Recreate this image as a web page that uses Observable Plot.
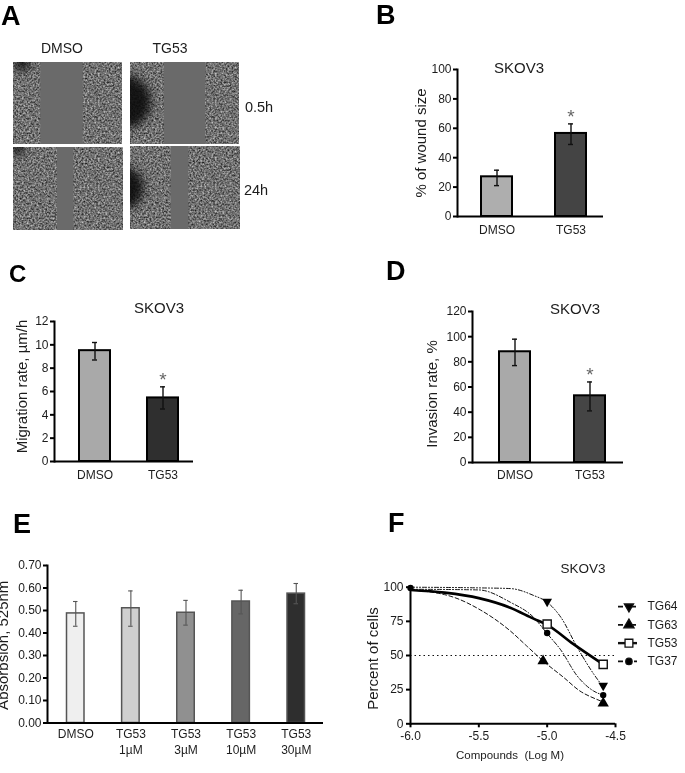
<!DOCTYPE html>
<html><head><meta charset="utf-8">
<script src="https://cdn.jsdelivr.net/npm/d3@7"></script>
<script src="https://cdn.jsdelivr.net/npm/@observablehq/plot@0.6"></script>
<style>
html,body{margin:0;padding:0;background:#fff}
#page{position:relative;width:685px;height:773px;overflow:hidden;background:#fff;font-family:"Liberation Sans",Arial,sans-serif;color:#1c1c1c;filter:blur(.4px)}
#page>svg,#page>div{position:absolute}
.letter{font-weight:700;color:#000;line-height:1}
.t{white-space:nowrap;transform:translate(-50%,-50%);line-height:1}
</style></head><body>
<svg width="0" height="0" style="position:absolute"><defs>
<filter id="cells" x="0" y="0" width="100%" height="100%" color-interpolation-filters="sRGB">
<feTurbulence type="fractalNoise" baseFrequency="0.55" numOctaves="2" seed="7"/>
<feColorMatrix values=".9 0 0 0 -.01  .9 0 0 0 -.01  .9 0 0 0 -.01  0 0 0 0 1"/>
<feComposite operator="in" in2="SourceAlpha"/>
</filter>
</defs></svg>
<div id="page"></div>
<script>
// Panel A: wound gap edges and dark smudges in each micrograph, in % of the field
const fieldNames = ["DMSO 0.5h", "TG53 0.5h", "DMSO 24h", "TG53 24h"];
const gapStart = [25, 31, 40, 37];
const gapEnd = [64, 69, 55, 53];
const smudgeX = [8, -6, 4, -8];
const smudgeY = [100, 52, 100, 50];
const smudgeRadius = [8, 27, 7, 22];

// Panel B
const barLabels = ["DMSO", "TG53"];
const woundValues = [27, 56.5];
const woundLow = [21, 49];
const woundHigh = [31.5, 63];
// Panel C
const migrationValues = [9.5, 5.45];
const migrationLow = [8.7, 4.5];
const migrationHigh = [10.2, 6.4];
// Panel D
const invasionValues = [88, 53];
const invasionLow = [77, 41];
const invasionHigh = [98, 64];
// Panel E
const absorbLabels = ["DMSO", "TG53\n1µM", "TG53\n3µM", "TG53\n10µM", "TG53\n30µM"];
const absorbValues = [0.487, 0.51, 0.49, 0.54, 0.575];
const absorbLow = [0.43, 0.43, 0.435, 0.485, 0.53];
const absorbHigh = [0.54, 0.587, 0.545, 0.59, 0.62];
const absorbFills = ["#efefef", "#cfcfcf", "#909090", "#666666", "#2e2e2e"];
// Panel F: points
const logDose64 = [-6, -5.5, -5.27, -5.1, -5, -4.9, -4.78, -4.66, -4.59];
const percent64 = [100, 99.5, 99, 94, 89, 78, 56, 36.5, 27];
const logDose63 = [-6, -5.68, -5.5, -5.27, -5.15, -5.03, -4.88, -4.76, -4.64, -4.59];
const percent63 = [98, 92.5, 84, 68, 57, 46, 34, 24, 18, 16];
const logDose53 = [-6, -5.75, -5.5, -5.27, -5.1, -5, -4.81, -4.59];
const percent53 = [98, 96, 92, 85, 77, 72.5, 58.5, 43.5];
const logDose37 = [-6, -5.5, -5.27, -5.1, -5, -4.9, -4.78, -4.66, -4.59];
const percent37 = [98.5, 98, 89, 78, 66, 54, 35, 24, 21];
const markers64 = [[-5, 89.5], [-4.59, 28]];
const markers63 = [[-5.03, 46], [-4.59, 15]];
const markers53 = [[-5, 73], [-4.59, 43.5]];
const markers37 = [[-6, 99.5], [-5, 66.5], [-4.59, 21]];
const legendNames = ["TG64", "TG63", "TG53", "TG37"];

const page = document.getElementById("page");
const FONT = '"Liberation Sans",Arial,sans-serif';
function place(node, left, top) { node.style.left = left + "px"; node.style.top = top + "px"; page.appendChild(node); }
function label(text, x, y, size, color) {
  const d = document.createElement("div"); d.className = "t"; d.textContent = text;
  d.style.left = x + "px"; d.style.top = y + "px"; d.style.fontSize = size + "px"; if (color) d.style.color = color;
  page.appendChild(d);
}
function letter(text, x, y, size) {
  const d = document.createElement("div"); d.className = "letter"; d.textContent = text;
  d.style.left = x + "px"; d.style.top = y + "px"; d.style.fontSize = size + "px"; page.appendChild(d);
}

function field(i, left, top, w, h) {
  const p = Plot.plot({
    width: w, height: h, margin: 0, style: {background: "#6a6a6a", display: "block", overflow: "hidden"},
    x: {domain: [0, 100], axis: null}, y: {domain: [0, 100], axis: null},
    marks: [
      Plot.rect([{a: 0, b: gapStart[i]}, {a: gapEnd[i], b: 100}],
        {x1: "a", x2: "b", y1: 0, y2: 100, fill: "#fff", imageFilter: "url(#cells)"}),
      Plot.dot([{x: smudgeX[i], y: smudgeY[i]}],
        {x: "x", y: "y", r: smudgeRadius[i], fill: "#0a0a0a", fillOpacity: .9, imageFilter: "blur(5px)"})
    ]
  });
  place(p, left, top);
}

function barPanel({left, top, width, height, axisX, y0Abs, yTopAbs, rightAbs, firstBar, lastBar, bw, labels, values, low, high, fills,
  yMax, yTicks, yFormat, yLabel, labelDx, labelDy, labelSize, star, barStroke, barWidth, errColor, errWidth, capWidth, tickFont, xFont, xPad}) {
  const rows = labels.map((l, i) => ({l, v: values[i], lo: low[i], hi: high[i]}));
  const step = labels.length > 1 ? (lastBar - firstBar - bw) / (labels.length - 1) : bw;
  const inset = (bw - capWidth) / 2;
  const p = Plot.plot({
    width, height, marginLeft: axisX - left, marginRight: left + width - rightAbs, marginTop: yTopAbs - top, marginBottom: top + height - y0Abs,
    style: {fontFamily: FONT, background: "transparent", overflow: "visible"},
    x: {type: "band", domain: labels, range: [firstBar - left, lastBar - left], paddingInner: 1 - bw / step, paddingOuter: 0, round: false},
    y: {domain: [0, yMax], label: null},
    color: {domain: labels, range: fills},
    marks: [
      Plot.barY(rows, {x: "l", y: "v", fill: "l", stroke: barStroke, strokeWidth: barWidth}),
      Plot.ruleX(rows, {x: "l", y1: "lo", y2: "hi", stroke: errColor, strokeWidth: errWidth}),
      Plot.tickY(rows, {x: "l", y: "lo", stroke: errColor, strokeWidth: errWidth, insetLeft: inset, insetRight: inset}),
      Plot.tickY(rows, {x: "l", y: "hi", stroke: errColor, strokeWidth: errWidth, insetLeft: inset, insetRight: inset}),
      ...(star ? [Plot.text(rows.filter(r => r.l === star), {x: "l", y: "hi", text: () => "*", dy: -7, fontSize: 19, fill: "#666"})] : []),
      Plot.ruleY([0], {stroke: "#000", strokeWidth: 2}),
      Plot.frame({anchor: "left", stroke: "#000", strokeWidth: 2}),
      Plot.axisY({ticks: yTicks, tickSize: 4, tickPadding: 2, stroke: "#000", strokeWidth: 2, fill: "#1c1c1c", fontSize: tickFont, tickFormat: yFormat, label: null}),
      Plot.axisX({tickSize: 0, tickPadding: xPad, fill: "#1c1c1c", fontSize: xFont, lineHeight: 1.3, label: null, tickFormat: d => d}),
      Plot.text([yLabel], {frameAnchor: "left", textAnchor: "middle", rotate: -90, dx: labelDx, dy: labelDy, fontSize: labelSize, fill: "#1c1c1c"})
    ]
  });
  place(p, left, top);
}

function curve(xs, ys, opts) {
  return Plot.line(xs.map((x, i) => [x, ys[i]]), {x: "0", y: "1", curve: "monotone-x", stroke: "#111", ...opts});
}
function markerDots(points, opts) {
  return Plot.dot(points, {x: "0", y: "1", fill: "#000", ...opts});
}

// Panel A
letter("A", 1, 3, 27);
label("DMSO", 62, 48, 14);
label("TG53", 170, 48, 14);
label("0.5h", 259, 107, 14.5);
label("24h", 256, 190, 14.5);
field(0, 13, 62, 109, 82);
field(1, 130, 62, 109, 82);
field(2, 13, 147, 110, 83);
field(3, 130, 146, 110, 83);

// Panel B
letter("B", 376, 2, 27);
label("SKOV3", 519, 67, 15);
barPanel({left: 395, top: 50, width: 220, height: 195, axisX: 457, y0Abs: 216, yTopAbs: 69, rightAbs: 603,
  firstBar: 481, lastBar: 586, bw: 31, labels: barLabels, values: woundValues, low: woundLow, high: woundHigh, fills: ["#aeaeae", "#444444"],
  yMax: 100, yTicks: [0, 20, 40, 60, 80, 100], yFormat: d => d, yLabel: "% of wound size", labelDx: -36, labelDy: 0, labelSize: 15, star: "TG53",
  barStroke: "#000", barWidth: 2, errColor: "#111", errWidth: 1.4, capWidth: 5, tickFont: 12, xFont: 12, xPad: 6});

// Panel C
letter("C", 9, 262, 24);
label("SKOV3", 159, 307, 15);
barPanel({left: 0, top: 305, width: 205, height: 190, axisX: 54, y0Abs: 461, yTopAbs: 321, rightAbs: 193,
  firstBar: 79, lastBar: 178, bw: 31, labels: barLabels, values: migrationValues, low: migrationLow, high: migrationHigh, fills: ["#a9a9a9", "#2f2f2f"],
  yMax: 12, yTicks: [0, 2, 4, 6, 8, 10, 12], yFormat: d => d, yLabel: "Migration rate, µm/h", labelDx: -32, labelDy: -5, labelSize: 15, star: "TG53",
  barStroke: "#000", barWidth: 2, errColor: "#111", errWidth: 1.4, capWidth: 5, tickFont: 12, xFont: 12, xPad: 6});

// Panel D
letter("D", 386, 258, 27);
label("SKOV3", 575, 308, 15);
barPanel({left: 410, top: 295, width: 225, height: 195, axisX: 472, y0Abs: 462, yTopAbs: 311, rightAbs: 623,
  firstBar: 499, lastBar: 605, bw: 31, labels: barLabels, values: invasionValues, low: invasionLow, high: invasionHigh, fills: ["#a9a9a9", "#454545"],
  yMax: 120, yTicks: [0, 20, 40, 60, 80, 100, 120], yFormat: d => d, yLabel: "Invasion rate, %", labelDx: -40, labelDy: 7, labelSize: 15, star: "TG53",
  barStroke: "#000", barWidth: 2, errColor: "#111", errWidth: 1.4, capWidth: 5, tickFont: 12, xFont: 12, xPad: 5});

// Panel E
letter("E", 13, 511, 27);
barPanel({left: 0, top: 550, width: 335, height: 215, axisX: 47, y0Abs: 722.5, yTopAbs: 565, rightAbs: 323,
  firstBar: 66.5, lastBar: 304.5, bw: 17.5, labels: absorbLabels, values: absorbValues, low: absorbLow, high: absorbHigh, fills: absorbFills,
  yMax: 0.7, yTicks: d3.range(0, 8).map(i => i / 10), yFormat: d3.format(".2f"), yLabel: "Absorbsion, 525nm", labelDx: -44, labelDy: 1, labelSize: 15, star: null,
  barStroke: "#555", barWidth: 1.5, errColor: "#555", errWidth: 1.1, capWidth: 4.5, tickFont: 12, xFont: 12, xPad: 4});

// Panel F
letter("F", 388, 510, 27);
label("SKOV3", 583, 569, 13.5);
const plotF = Plot.plot({
  width: 265, height: 190, marginLeft: 410 - 365, marginRight: 630 - 615, marginTop: 586.7 - 575, marginBottom: 765 - 723.3,
  style: {fontFamily: FONT, background: "transparent", overflow: "visible"},
  x: {domain: [-6, -4.5], label: null}, y: {domain: [0, 100], label: null},
  marks: [
    Plot.ruleY([50], {stroke: "#111", strokeWidth: 1.2, strokeDasharray: "1.5 3"}),
    curve(logDose64, percent64, {strokeWidth: 1, strokeDasharray: "4 2 1 2 1 2"}),
    curve(logDose63, percent63, {strokeWidth: 1, strokeDasharray: "4 2.5"}),
    curve(logDose37, percent37, {strokeWidth: 1, strokeDasharray: "4 2 1 2"}),
    curve(logDose53, percent53, {strokeWidth: 2.6, stroke: "#000"}),
    markerDots(markers64, {symbol: "triangle", rotate: 180, r: 3.6}),
    markerDots(markers63, {symbol: "triangle", r: 4.2}),
    markerDots(markers37, {symbol: "circle", r: 3.2}),
    markerDots(markers53, {symbol: "square", r: 4.6, fill: "#fff", stroke: "#111", strokeWidth: 1.4}),
    Plot.ruleY([0], {stroke: "#000", strokeWidth: 2}),
    Plot.frame({anchor: "left", stroke: "#000", strokeWidth: 2}),
    Plot.axisY({ticks: [0, 25, 50, 75, 100], tickSize: 4, tickPadding: 3, stroke: "#000", strokeWidth: 2, fill: "#1c1c1c", fontSize: 12, tickFormat: d => d, label: null}),
    Plot.axisX({ticks: [-6, -5.5, -5, -4.5], tickSize: 4, tickPadding: 4, stroke: "#000", strokeWidth: 2, fill: "#1c1c1c", fontSize: 12, tickFormat: d => d3.format(".1f")(d).replace("−", "-"), label: null}),
    Plot.text(["Percent of cells"], {frameAnchor: "left", textAnchor: "middle", rotate: -90, dx: -37, dy: 3, fontSize: 15, fill: "#1c1c1c"}),
    Plot.text(["Compounds  (Log M)"], {frameAnchor: "bottom", dy: 35, dx: -3, fontSize: 11.5, fontWeight: 500, fill: "#1c1c1c"})
  ]
});
place(plotF, 365, 575);

// Panel F legend
const legendStyles = [
  {dash: "5 3 2 3", symbol: "triangle", rotate: 180, r: 3.4, fill: "#000", strokeWidth: 1.6},
  {dash: "5 3 2 3", symbol: "triangle", rotate: 0, r: 3.8, fill: "#000", strokeWidth: 1.6},
  {dash: null, symbol: "square", rotate: 0, r: 4.4, fill: "#fff", strokeWidth: 2.4},
  {dash: "5 3", symbol: "circle", rotate: 0, r: 3.2, fill: "#000", strokeWidth: 1.6}
];
const plotLegend = Plot.plot({
  width: 75, height: 100, margin: 0,
  style: {fontFamily: FONT, background: "transparent", overflow: "visible"},
  x: {domain: [0, 1], range: [8, 27], axis: null},
  y: {type: "point", domain: legendNames, range: [12, 85], axis: null, round: false},
  marks: [
    ...legendNames.map((n, i) => Plot.ruleY([n], {x1: 0, x2: 1, stroke: "#111", strokeWidth: legendStyles[i].strokeWidth, strokeDasharray: legendStyles[i].dash})),
    ...legendNames.map((n, i) => Plot.dot([n], {x: .55, y: d => d, symbol: legendStyles[i].symbol, rotate: legendStyles[i].rotate, r: legendStyles[i].r, fill: legendStyles[i].fill, stroke: "#111", strokeWidth: 1.3})),
    Plot.text(legendNames, {x: 1, y: d => d, text: d => d, dx: 10, textAnchor: "start", fontSize: 12, fill: "#1c1c1c"})
  ]
});
place(plotLegend, 610, 585);
</script>
</body></html>
